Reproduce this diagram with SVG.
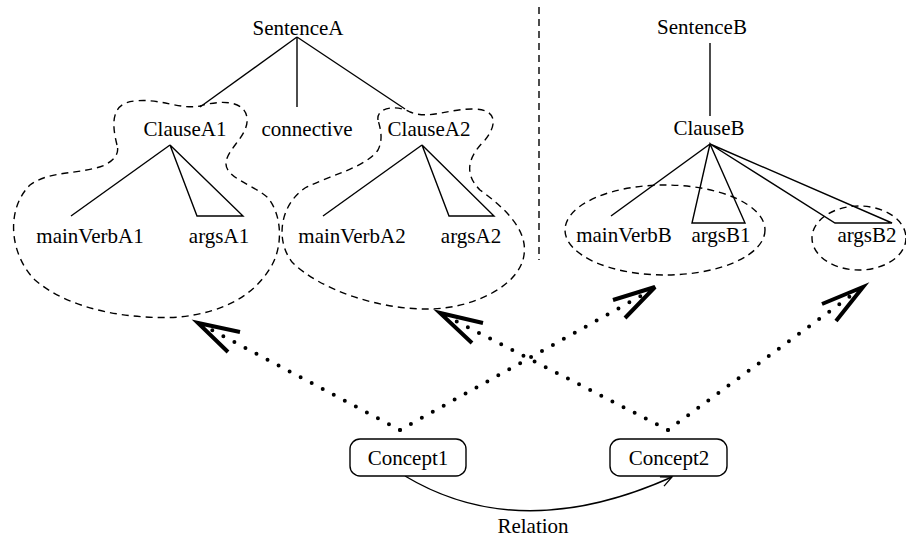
<svg xmlns="http://www.w3.org/2000/svg" width="906" height="541" viewBox="0 0 906 541">
<style>
text{font-family:"Liberation Serif","Times New Roman",serif;font-size:21px;fill:#000;text-anchor:middle}
.t{stroke:#000;stroke-width:1.4;fill:none}
.d{stroke:#000;stroke-width:1.4;fill:none;stroke-dasharray:7 5}
.dot{stroke:#000;stroke-width:4;fill:none;stroke-dasharray:0 12.5;stroke-linecap:round}
.ah{stroke:#000;stroke-width:4;fill:none;stroke-linejoin:miter;stroke-linecap:butt}
.box{stroke:#000;stroke-width:1.4;fill:#fff}
</style>
<defs>
<marker id="oa" markerWidth="14" markerHeight="12" refX="12" refY="6" orient="auto" markerUnits="userSpaceOnUse">
<path d="M1,1 L12,6 L1,11" fill="none" stroke="#000" stroke-width="1.3"/>
</marker>
</defs>
<rect width="906" height="541" fill="#fff"/>

<g id="divider">
<line x1="539" y1="7" x2="539" y2="260" class="d" stroke-dasharray="9 6"/>
</g>

<g id="groups">
<path id="groupA1" class="d" d="M117,145 C112,125 110,103 135,101 C160,98 180,110 200,106 C220,100 245,100 247,118 C249,135 228,148 226,162 C224,178 255,185 268,198 C282,215 283,245 272,265 C255,295 225,312 180,317 C130,320 70,310 35,280 C10,255 5,210 30,185 C50,170 80,175 105,165 C117,158 119,152 117,145 Z"/>
<path id="groupA2" class="d" d="M378,120 C376,108 395,104 410,112 C430,120 450,108 475,109 C500,110 495,128 485,140 C470,155 462,172 480,190 C505,208 528,230 524,255 C520,285 475,308 430,309 C380,310 320,290 292,262 C275,240 280,205 305,188 C330,175 365,168 378,150 C383,140 381,130 378,120 Z"/>
<ellipse id="groupB1" class="d" cx="665" cy="230" rx="100" ry="45"/>
<ellipse id="groupB2" class="d" cx="859" cy="238" rx="47" ry="32"/>
</g>

<g id="tree-edges">
<line class="t" x1="297" y1="37" x2="200" y2="107"/>
<line class="t" x1="297" y1="37" x2="297" y2="107"/>
<line class="t" x1="297" y1="37" x2="405" y2="109"/>
<line class="t" x1="170" y1="145" x2="71" y2="216"/>
<polygon class="t" points="170,145 197,216 243,216"/>
<line class="t" x1="422" y1="145" x2="323" y2="216"/>
<polygon class="t" points="422,145 449,216 494,216"/>
<line class="t" x1="710" y1="43" x2="710" y2="116"/>
<line class="t" x1="710" y1="144" x2="611" y2="216"/>
<polygon class="t" points="710,144 692,223 745,223"/>
<polygon class="t" points="710,144 835,223 892,223"/>
</g>

<g id="SentenceA"><text x="298" y="35">SentenceA</text></g>
<g id="ClauseA1"><text x="185" y="136">ClauseA1</text></g>
<g id="connective"><text x="307" y="136">connective</text></g>
<g id="ClauseA2"><text x="429" y="136">ClauseA2</text></g>
<g id="mainVerbA1"><text x="90" y="243">mainVerbA1</text></g>
<g id="argsA1"><text x="219" y="243">argsA1</text></g>
<g id="mainVerbA2"><text x="352" y="243">mainVerbA2</text></g>
<g id="argsA2"><text x="471" y="243">argsA2</text></g>
<g id="SentenceB"><text x="702" y="34">SentenceB</text></g>
<g id="ClauseB"><text x="709" y="135">ClauseB</text></g>
<g id="mainVerbB"><text x="624" y="242">mainVerbB</text></g>
<g id="argsB1"><text x="721" y="242">argsB1</text></g>
<g id="argsB2"><text x="867" y="242">argsB2</text></g>

<g id="connectors">
<path class="dot" d="M400,430 L206,327"/>
<path class="dot" d="M400,430 L648,292"/>
<path class="dot" d="M668,430 L448,317"/>
<path class="dot" d="M668,430 L856,292"/>
<polyline class="ah" points="240,332 198,323 228,352"/>
<polyline class="ah" points="483,323 440,313 472,343"/>
<polyline class="ah" points="613,300 655,287 625,318"/>
<polyline class="ah" points="822,304 863,287 836,321"/>
<path class="t" d="M405,476 Q520,545 672,477" marker-end="url(#oa)"/>
<text x="533" y="533">Relation</text>
</g>

<g id="Concept1">
<rect class="box" x="350" y="439" width="116" height="37" rx="10"/>
<text x="408" y="465">Concept1</text>
</g>
<g id="Concept2">
<rect class="box" x="610" y="439" width="117" height="37" rx="10"/>
<text x="669" y="465">Concept2</text>
</g>
</svg>
